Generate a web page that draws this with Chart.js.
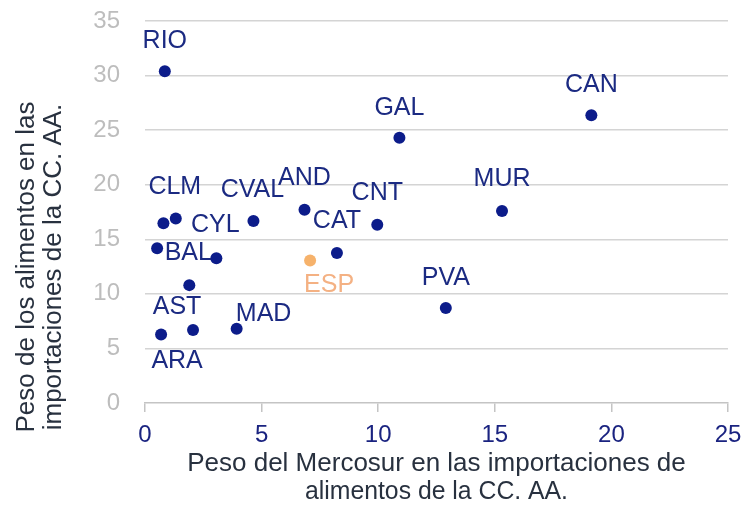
<!DOCTYPE html>
<html>
<head>
<meta charset="utf-8">
<script src="https://cdn.jsdelivr.net/npm/chart.js@4.4.1/dist/chart.umd.min.js"></script>
<style>
  html, body { margin: 0; padding: 0; background: #fff; }
  #wrap { width: 744px; height: 505px; }
</style>
</head>
<body>
<div id="wrap"><canvas id="mercosurChart"></canvas></div>
<script>
// Comunidades autónomas: peso del Mercosur (x) y peso de los alimentos (y), en %
const regions = ['RIO', 'CAN', 'GAL', 'MUR', 'CNT', 'AND', 'CVAL', 'CLM', '', 'CYL', 'CAT', 'BAL', '', 'AST', 'ARA', 'PVA', 'MAD'];
const mercosurShare = [0.85, 19.14, 10.91, 15.31, 9.96, 6.84, 4.65, 1.32, 0.79, 3.06, 8.23, 1.90, 0.52, 2.06, 0.69, 12.9, 3.93];
const foodShare = [30.4, 26.36, 24.3, 17.59, 16.34, 17.71, 16.68, 16.9, 16.47, 13.27, 13.75, 10.8, 14.18, 6.68, 6.28, 8.7, 6.8];

// Total España
const spainLabel = ['ESP'];
const spainMercosur = [7.08];
const spainFood = [13.05];

const xTicks = [0, 5, 10, 15, 20, 25];
const yTicks = [0, 5, 10, 15, 20, 25, 30, 35];

const xTitle = ['Peso del Mercosur en las importaciones de', 'alimentos de la CC. AA.'];
const yTitle = ['Peso de los alimentos en las', 'importaciones de la CC. AA.'];

// where each label sits relative to its point (px)
const labelOffsets = [[0, -32], [0, -32], [0, -32], [0, -34], [0, -34], [0, -34], [-1, -33], [-1, -34], [0, 0],
  [-1, -35], [0, -34], [-1, -34], [0, 0], [-16, -25], [16, 25], [0, -32], [27, -17]];
const spainOffsets = [[19, 22]];

const FONT = "'Liberation Sans', Arial, sans-serif";
const NAVY = '#0c1c8a';
const ORANGE = '#f6b26b';

const toPoints = (xs, ys) => xs.map((x, i) => ({ x: x, y: ys[i] }));

// point labels
const pointLabels = {
    id: 'pointLabels',
    afterDatasetsDraw(chart) {
        const ctx = chart.ctx;
        ctx.save();
        ctx.font = '25px ' + FONT;
        ctx.textAlign = 'center';
        ctx.textBaseline = 'alphabetic';
        chart.data.datasets.forEach((ds, di) => {
            const meta = chart.getDatasetMeta(di);
            meta.data.forEach((pt, i) => {
                const text = ds.names[i];
                if (!text) return;
                const off = ds.offsets[i];
                ctx.fillStyle = ds.labelColor;
                ctx.fillText(text, pt.x + off[0], pt.y + off[1] + 9);
            });
        });
        ctx.restore();
    }
};

// axis titles, two lines each
const axisTitles = {
    id: 'axisTitles',
    afterDraw(chart) {
        const ctx = chart.ctx;
        const area = chart.chartArea;
        ctx.save();
        ctx.fillStyle = '#28313f';
        ctx.font = '26px ' + FONT;
        ctx.textAlign = 'center';
        ctx.textBaseline = 'alphabetic';
        const cx = (area.left + area.right) / 2;
        ctx.fillText(xTitle[0], cx, 471, 508);
        ctx.fillText(xTitle[1], cx, 499, 263);

        ctx.translate(0, 267);
        ctx.rotate(-Math.PI / 2);
        ctx.fillText(yTitle[0], 0, 34, 337);
        ctx.fillText(yTitle[1], 0, 61, 330);
        ctx.restore();
    }
};

const ctx = document.getElementById('mercosurChart').getContext('2d');
const chart = new Chart(ctx, {
    type: 'scatter',
    data: {
        datasets: [{
            data: toPoints(mercosurShare, foodShare),
            names: regions,
            offsets: labelOffsets,
            labelColor: '#1b2a82',
            backgroundColor: NAVY,
            borderWidth: 0,
            pointRadius: 6,
            pointHoverRadius: 6
        }, {
            data: toPoints(spainMercosur, spainFood),
            names: spainLabel,
            offsets: spainOffsets,
            labelColor: '#f4b183',
            backgroundColor: ORANGE,
            borderWidth: 0,
            pointRadius: 6,
            pointHoverRadius: 6
        }]
    },
    options: {
        responsive: true,
        maintainAspectRatio: false,
        animation: false,
        events: [],
        layout: {
            padding: { left: 0, right: 16, top: 21, bottom: 0 }
        },
        scales: {
            x: {
                type: 'linear',
                min: xTicks[0],
                max: xTicks[xTicks.length - 1],
                afterBuildTicks: (axis) => { axis.ticks = xTicks.map(v => ({ value: v })); },
                afterFit: (axis) => {
                    axis.height = 102;
                    axis.paddingLeft = 0;
                    axis.paddingRight = 0;
                },
                grid: {
                    drawOnChartArea: false,
                    drawTicks: true,
                    tickLength: 9,
                    color: '#c4c4c4',
                    lineWidth: 1.5
                },
                border: { display: true, color: '#c4c4c4', width: 1.5 },
                ticks: {
                    color: '#1a2380',
                    padding: 9,
                    font: { family: FONT, size: 24 }
                },
                title: { display: false }
            },
            y: {
                type: 'linear',
                min: yTicks[0],
                max: yTicks[yTicks.length - 1],
                afterBuildTicks: (axis) => { axis.ticks = yTicks.map(v => ({ value: v })); },
                afterFit: (axis) => {
                    axis.width = 145;
                    axis.paddingTop = 0;
                    axis.paddingBottom = 0;
                },
                grid: {
                    drawTicks: false,
                    color: (c) => c.tick && c.tick.value === 0 ? 'rgba(0,0,0,0)' : '#d4d4d4',
                    lineWidth: 1.5
                },
                border: { display: false },
                ticks: {
                    color: '#bdbdbd',
                    padding: 25,
                    font: { family: FONT, size: 24 }
                },
                title: { display: false }
            }
        },
        plugins: {
            legend: { display: false },
            tooltip: { enabled: false }
        }
    },
    plugins: [pointLabels, axisTitles]
});
</script>
</body>
</html>
